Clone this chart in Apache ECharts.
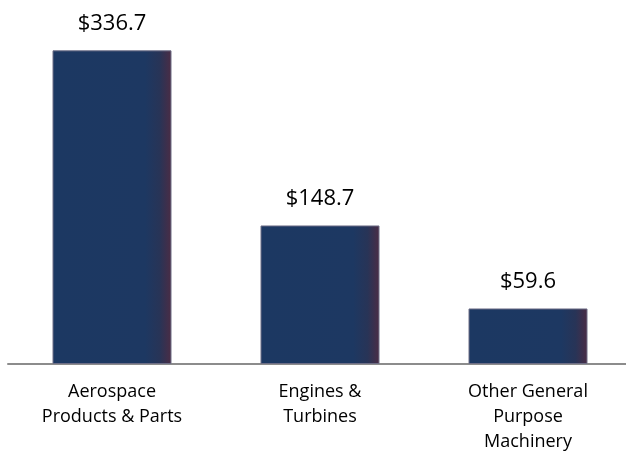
<!DOCTYPE html>
<html><head><meta charset="utf-8">
<script src="https://cdn.jsdelivr.net/npm/echarts@6/dist/echarts.min.js"></script>
<style>html,body{margin:0;padding:0;background:#fff;overflow:hidden;width:626px;height:457px}#c{width:634px;height:457px}</style>
</head><body><div id="c"></div>
<script>
const categories = ["Aerospace\nProducts & Parts", "Engines &\nTurbines", "Other General\nPurpose\nMachinery"];
const values = [336.7, 148.7, 59.6];
const labels = ["$336.7", "$148.7", "$59.6"];

const chart = echarts.init(document.getElementById('c'));
const fam = "'Open Sans', 'Noto Sans', sans-serif";
chart.setOption({
  animation: false,
  backgroundColor: '#ffffff',
  grid: {left: 8, right: 2, top: 10, bottom: 93},
  xAxis: {
    type: 'category', data: categories,
    axisLine: {lineStyle: {color: '#8c8c8c', width: 2}},
    axisTick: {show: false},
    axisLabel: {color: '#000', fontFamily: fam, fontSize: 18, lineHeight: 25, margin: 15, interval: 0}
  },
  yAxis: {type: 'value', min: 0, max: 380, show: false, splitLine: {show: false}},
  series: [{
    type: 'bar', barWidth: 119,
    data: values,
    itemStyle: {
      borderColor: '#6e6e86', borderWidth: 1,
      color: new echarts.graphic.LinearGradient(0, 0, 1, 0, [
        {offset: 0, color: '#1c3862'},
        {offset: 0.78, color: '#1d3862'},
        {offset: 0.9, color: '#283457'},
        {offset: 1, color: '#4b2c45'}
      ])
    },
    label: {
      show: true, position: 'top', distance: 16,
      color: '#000', fontFamily: fam, fontSize: 22,
      formatter: p => labels[p.dataIndex]
    }
  }]
});
</script></body></html>
